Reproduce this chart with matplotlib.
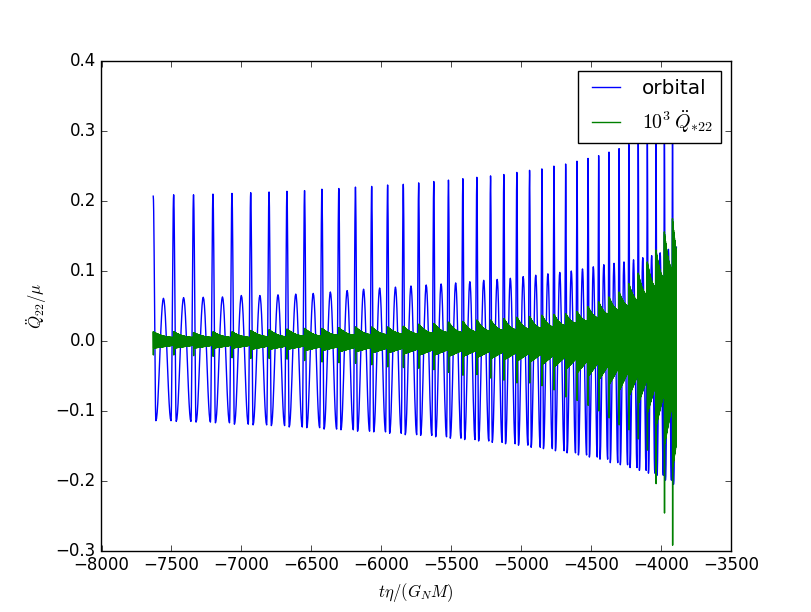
"""偏心轨道 Q22 二阶导数波形图 — 复刻参考图"""

import numpy as np
import matplotlib
matplotlib.use("Agg")
import matplotlib.pyplot as plt

plt.style.use("classic")

# ====== 数据（每圈一个值） ======

# 近星点时刻（蓝线尖峰位置）
peak_t = [-7630, -7484, -7342, -7203, -7067, -6933, -6802, -6674, -6548, -6424,
          -6303, -6184, -6068, -5954, -5842, -5732, -5624, -5519, -5416, -5316,
          -5218, -5123, -5030, -4939, -4851, -4765, -4681, -4600, -4521, -4445,
          -4371, -4299, -4229, -4162, -4097, -4035, -3975, -3917]
t_end = -3889

# 蓝线：尖峰高度 / 两侧谷底 / 中间小峰
peak_h = [0.207, 0.209, 0.209, 0.210, 0.211, 0.212, 0.213, 0.214, 0.215, 0.217,
          0.218, 0.220, 0.221, 0.223, 0.224, 0.226, 0.228, 0.230, 0.232, 0.234,
          0.236, 0.238, 0.241, 0.244, 0.246, 0.250, 0.253, 0.257, 0.261, 0.265,
          0.270, 0.275, 0.281, 0.288, 0.296, 0.305, 0.315, 0.326]
trough_h = [-0.114, -0.115, -0.116, -0.117, -0.119, -0.120, -0.121, -0.123, -0.124, -0.126,
            -0.127, -0.129, -0.130, -0.132, -0.134, -0.135, -0.137, -0.139, -0.141, -0.143,
            -0.145, -0.147, -0.149, -0.152, -0.154, -0.157, -0.160, -0.163, -0.166, -0.169,
            -0.174, -0.177, -0.181, -0.185, -0.189, -0.192, -0.199, -0.205]
bump_h = [0.061, 0.062, 0.0625, 0.063, 0.065, 0.065, 0.066, 0.067, 0.068, 0.070,
          0.072, 0.074, 0.0757, 0.077, 0.0786, 0.080, 0.0815, 0.083, 0.0847, 0.0867,
          0.088, 0.0896, 0.092, 0.094, 0.096, 0.098, 0.100, 0.103, 0.106, 0.109,
          0.111, 0.113, 0.116, 0.119, 0.122, 0.126, 0.131, 0.134]

# 绿线（10^3 Q*22）：近星点处上冲 / 下冲尖刺，圈末包络上下沿
green_top = [0.013, 0.013, 0.012, 0.013, 0.013, 0.015, 0.016, 0.017, 0.018, 0.018,
             0.019, 0.020, 0.020, 0.020, 0.021, 0.024, 0.025, 0.027, 0.028, 0.030,
             0.030, 0.032, 0.034, 0.035, 0.037, 0.038, 0.039, 0.042, 0.049, 0.056,
             0.063, 0.070, 0.082, 0.097, 0.113, 0.130, 0.156, 0.175]
green_spike = [-0.020, -0.020, -0.021, -0.022, -0.024, -0.025, -0.025, -0.026, -0.028, -0.030,
               -0.031, -0.032, -0.034, -0.037, -0.038, -0.039, -0.041, -0.045, -0.049, -0.048,
               -0.053, -0.056, -0.060, -0.060, -0.064, -0.070, -0.080, -0.085, -0.092, -0.100,
               -0.110, -0.120, -0.127, -0.140, -0.156, -0.204, -0.246, -0.292]
green_up_base = [0.005, 0.005, 0.005, 0.005, 0.005, 0.006, 0.006, 0.007, 0.007, 0.008,
                 0.008, 0.009, 0.009, 0.010, 0.010, 0.011, 0.012, 0.012, 0.013, 0.014,
                 0.015, 0.016, 0.017, 0.018, 0.020, 0.022, 0.025, 0.028, 0.033, 0.038,
                 0.044, 0.050, 0.058, 0.066, 0.077, 0.090, 0.103, 0.112]
green_dn_base = [-0.006, -0.006, -0.006, -0.006, -0.006, -0.007, -0.007, -0.007, -0.008, -0.008,
                 -0.009, -0.009, -0.010, -0.010, -0.011, -0.012, -0.012, -0.013, -0.013, -0.014,
                 -0.015, -0.016, -0.017, -0.018, -0.020, -0.022, -0.024, -0.027, -0.030, -0.033,
                 -0.037, -0.042, -0.047, -0.053, -0.061, -0.072, -0.088, -0.108]


def cycle_bounds(k):
    t0 = peak_t[k]
    t1 = peak_t[k + 1] if k + 1 < len(peak_t) else t_end
    period = (t1 - t0) if k + 1 < len(peak_t) else 2 * (t_end - t0)
    return t0, t1, period


def build_orbital():
    """蓝线：尖峰 -> 谷 -> 小峰 -> 谷 -> 尖峰，相邻特征点间用余弦过渡"""
    kt, kv = [], []
    for k in range(len(peak_t)):
        t0, t1, P = cycle_bounds(k)
        kt += [t0, t0 + 0.13 * P, t0 + 0.5 * P]
        kv += [peak_h[k], trough_h[k], bump_h[k]]
        if k + 1 < len(peak_t):
            kt.append(t0 + 0.87 * P)
            kv.append(trough_h[k])
    ts, vs = [], []
    for i in range(len(kt) - 1):
        s = np.linspace(0, 1, 12, endpoint=False)
        w = (1 - np.cos(np.pi * s)) / 2
        ts.append(kt[i] + (kt[i + 1] - kt[i]) * s)
        vs.append(kv[i] + (kv[i + 1] - kv[i]) * w)
    ts.append([kt[-1]])
    vs.append([kv[-1]])
    return np.concatenate(ts), np.concatenate(vs)


def build_green():
    """绿线：高频振荡，用上下包络来回折线表示"""
    ts, vs = [], []
    for k in range(len(peak_t)):
        t0, t1, P = cycle_bounds(k)
        t = np.arange(t0, t1, 1.0)
        s = (t - t0) / P
        upper = green_up_base[k] + (green_top[k] - green_up_base[k]) * (1 - s) ** 2
        lower = green_dn_base[k] * (1 + 0.7 * (1 - s))
        lower = np.where(t - t0 < 2.5, green_spike[k], lower)
        v = np.where(np.arange(len(t)) % 2 == 0, upper, lower)
        ts.append(t)
        vs.append(v)
    return np.concatenate(ts), np.concatenate(vs)


t_orb, q_orb = build_orbital()
t_star, q_star = build_green()

fig, ax = plt.subplots(figsize=(8.12, 6.12), dpi=100)
ax.plot(t_orb, q_orb, color="b", lw=1.0, label="orbital")
ax.plot(t_star, q_star, color="g", lw=1.0, label=r"$10^3\,\ddot{Q}_{*22}$")

ax.set_xlim(-8000, -3500)
ax.set_ylim(-0.3, 0.4)
ax.set_xlabel(r"$t\eta/(G_N M)$")
ax.set_ylabel(r"$\ddot{Q}_{22}/\mu$")
ax.legend(loc="upper right")

fig.savefig("out.png", dpi=100)
plt.close(fig)
